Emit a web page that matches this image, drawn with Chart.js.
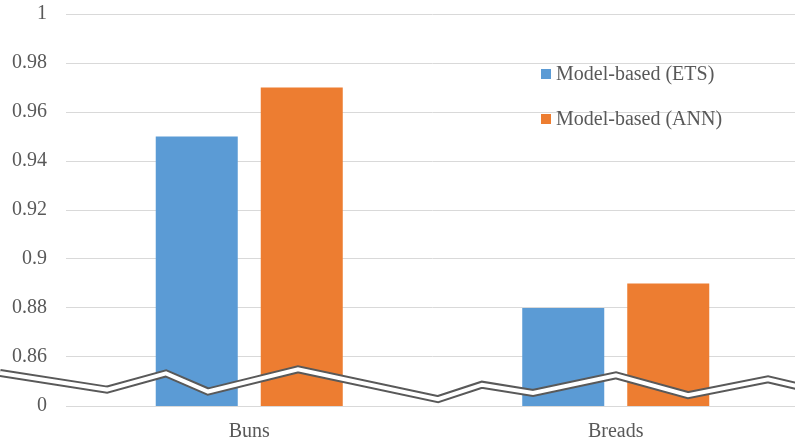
<!DOCTYPE html>
<html>
<head>
<meta charset="utf-8">
<script src="https://cdn.jsdelivr.net/npm/chart.js@4/dist/chart.umd.min.js"></script>
<style>
  html, body { margin: 0; padding: 0; background: #fff; overflow: hidden; }
  #wrap { width: 799px; height: 443px; }
</style>
</head>
<body>
<div id="wrap"><canvas id="c" width="799" height="443"></canvas></div>
<script>
// Categories and series
const categories = ['Buns', 'Breads'];
const seriesNames = ['Model-based (ETS)', 'Model-based (ANN)'];
const etsValues = [0.95, 0.88];
const annValues = [0.97, 0.89];

// Value axis: broken between 0 and 0.86; the lowest tick stands for 0
const axisFloor = 0.84;
const axisCeil = 1;
const axisStep = 0.02;

// Zig-zag axis-break symbol: [fraction of plot width, axis value]
const breakPath = [
  [-0.090, 0.8535], [0.0559, 0.8467], [0.1364, 0.8533], [0.1937, 0.8459],
  [0.3165, 0.8550], [0.5075, 0.8428], [0.5675, 0.8487], [0.6371, 0.8453],
  [0.7503, 0.8525], [0.8486, 0.8444], [0.9577, 0.8509], [1.0, 0.8479]
];

const seriesColors = ['#5B9BD5', '#ED7D31'];
const textColor = '#595959';
const fontFamily = "'Liberation Serif', 'DejaVu Serif', serif";

const breakPlugin = {
  id: 'axisBreak',
  afterDatasetsDraw(chart) {
    const { ctx, chartArea, scales } = chart;
    const y = scales.y;
    ctx.save();
    ctx.beginPath();
    breakPath.forEach(([f, v], i) => {
      const px = chartArea.left + f * (chartArea.right - chartArea.left);
      const py = y.getPixelForValue(v);
      if (i === 0) ctx.moveTo(px, py); else ctx.lineTo(px, py);
    });
    ctx.lineJoin = 'miter';
    ctx.lineCap = 'butt';
    ctx.strokeStyle = '#595959';
    ctx.lineWidth = 8;
    ctx.stroke();
    ctx.strokeStyle = '#ffffff';
    ctx.lineWidth = 4;
    ctx.stroke();
    ctx.restore();
  }
};

const legendPlugin = {
  id: 'innerLegend',
  afterDraw(chart) {
    const { ctx } = chart;
    ctx.save();
    ctx.font = '20px ' + fontFamily;
    ctx.textBaseline = 'middle';
    ctx.textAlign = 'left';
    chart.data.datasets.forEach((ds, i) => {
      const cy = 74 + i * 45;
      ctx.fillStyle = ds.backgroundColor;
      ctx.fillRect(541, cy - 5, 10, 10);
      ctx.fillStyle = textColor;
      ctx.fillText(ds.label, 556, cy + 1);
    });
    ctx.restore();
  }
};

new Chart(document.getElementById('c'), {
  type: 'bar',
  data: {
    labels: categories,
    datasets: [
      { label: seriesNames[0], data: etsValues, backgroundColor: seriesColors[0] },
      { label: seriesNames[1], data: annValues, backgroundColor: seriesColors[1] }
    ]
  },
  options: {
    responsive: false,
    animation: false,
    barPercentage: 0.781,
    categoryPercentage: 0.573,
    layout: { padding: { top: 14, right: 0, bottom: 0, left: 0 } },
    plugins: {
      legend: { display: false },
      tooltip: { enabled: false }
    },
    scales: {
      x: {
        grid: { display: false, drawTicks: false },
        border: { display: false },
        ticks: {
          color: textColor,
          font: { family: fontFamily, size: 20 },
          padding: 14
        },
        afterFit(scale) { scale.height = 37; }
      },
      y: {
        min: axisFloor,
        max: axisCeil,
        grid: { color: '#D9D9D9', lineWidth: 1, drawTicks: false },
        border: { display: false },
        ticks: {
          stepSize: axisStep,
          color: textColor,
          font: { family: fontFamily, size: 20 },
          padding: 19,
          callback(value) {
            const v = Math.round(value * 100) / 100;
            if (Math.abs(v - axisFloor) < 1e-9) return '0';
            return String(v);
          }
        },
        afterFit(scale) {
          scale.width = 66;
          scale.paddingTop = 0;
          scale.paddingBottom = 0;
        }
      }
    }
  },
  plugins: [breakPlugin, legendPlugin]
});
</script>
</body>
</html>
